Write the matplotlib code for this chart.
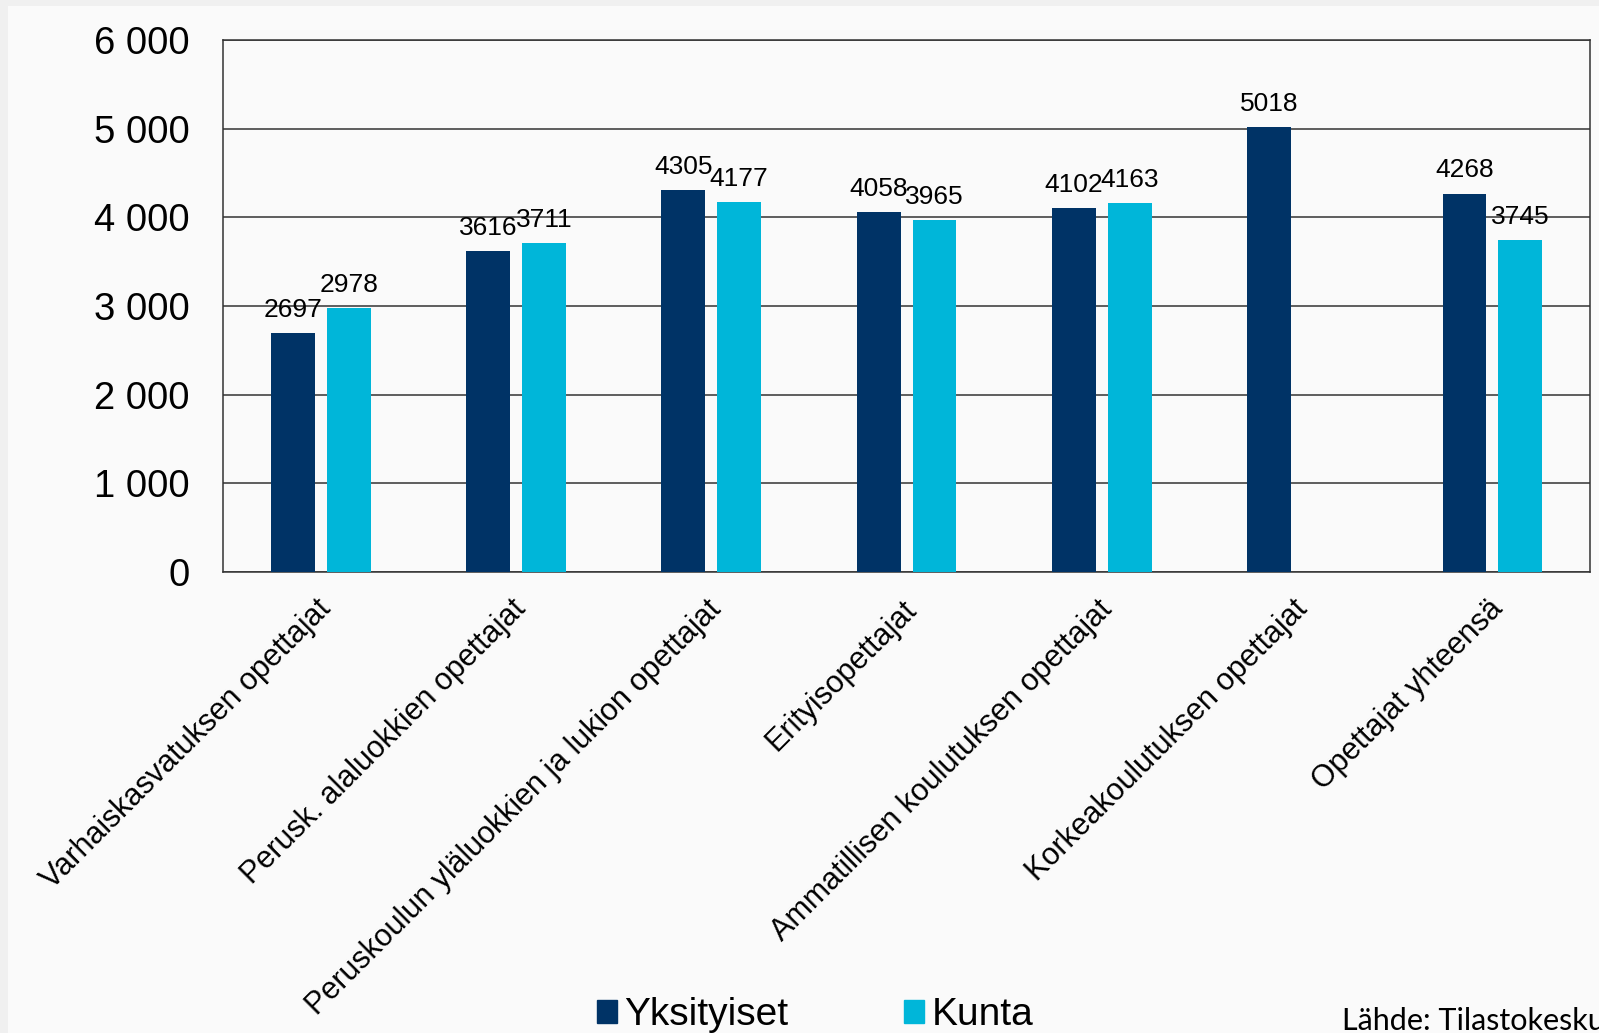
import matplotlib
matplotlib.use('Agg')
import matplotlib.pyplot as plt
import matplotlib.transforms as mtransforms
from matplotlib.patches import Patch, Rectangle
import numpy as np

# data
categories = ['Varhaiskasvatuksen opettajat',
              'Perusk. alaluokkien opettajat',
              'Peruskoulun yläluokkien ja lukion opettajat',
              'Erityisopettajat',
              'Ammatillisen koulutuksen opettajat',
              'Korkeakoulutuksen opettajat',
              'Opettajat yhteensä']
yksityiset = [2697, 3616, 4305, 4058, 4102, 5018, 4268]
kunta = [2978, 3711, 4177, 3965, 4163, np.nan, 3745]  # no municipal value for korkeakoulu
y_ticks = [0, 1000, 2000, 3000, 4000, 5000, 6000]
y_tick_labels = ['0', '1 000', '2 000', '3 000', '4 000', '5 000', '6 000']
series_names = ['Yksityiset', 'Kunta']

dark = '#003366'
cyan = '#00b6d9'
line_col = '#333333'

plt.rcParams['font.family'] = 'Liberation Sans'

fig = plt.figure(figsize=(15.99, 10.33), dpi=100)
fig.patch.set_facecolor('#f0f0f0')
# lighter slide area (thin gray strip stays at top and left)
fig.add_artist(Rectangle((8 / 1599, 0), 1, 1 - 6 / 1033, transform=fig.transFigure,
                         facecolor='#fafafa', edgecolor='none', zorder=-10))

ax = fig.add_axes([0.1395, 0.4463, 0.8549, 0.515])
ax.set_facecolor('#fafafa')

x = np.arange(len(categories))
w = 0.225
off = 0.143
bars1 = ax.bar(x - off, yksityiset, w, color=dark, zorder=3)
bars2 = ax.bar(x + off, kunta, w, color=cyan, zorder=3)

# value labels above the bars
ax.bar_label(bars1, labels=[str(v) for v in yksityiset], padding=8, fontsize=19)
ax.bar_label(bars2, labels=['' if np.isnan(v) else str(int(v)) for v in kunta],
             padding=8, fontsize=19)

ax.set_xlim(-0.5, len(categories) - 0.5)
ax.set_ylim(0, 6000)
ax.set_yticks(y_ticks)
ax.set_yticklabels(y_tick_labels, fontsize=27.5)
ax.yaxis.grid(True, color=line_col, linewidth=1.1, zorder=0)
for s in ax.spines.values():
    s.set_color(line_col)
    s.set_linewidth(1.1)
ax.tick_params(axis='y', length=0, pad=24)

ax.set_xticks(x)
ax.set_xticklabels(categories, rotation=45, ha='right', rotation_mode='anchor', fontsize=22)
ax.tick_params(axis='x', length=0, pad=16)
shift = mtransforms.ScaledTranslation(-0.05, 0, fig.dpi_scale_trans)
for lab in ax.get_xticklabels():
    lab.set_transform(lab.get_transform() + shift)

# legend at the bottom
handles = [Patch(color=dark, label=series_names[0]), Patch(color=cyan, label=series_names[1])]
fig.legend(handles=handles, loc='lower left', bbox_to_anchor=(597 / 1599, 0), ncol=2,
           frameon=False, fontsize=28, handlelength=0.52, handleheight=0.52,
           handletextpad=0.18, columnspacing=2.98, borderpad=0, borderaxespad=0)

# source note, runs off the right edge like in the slide
fig.text(1342 / 1599, 3 / 1033, 'Lähde: Tilastokeskus', fontsize=22, family='Lato',
         va='baseline')

fig.savefig('out.png', dpi=100, facecolor=fig.get_facecolor())
